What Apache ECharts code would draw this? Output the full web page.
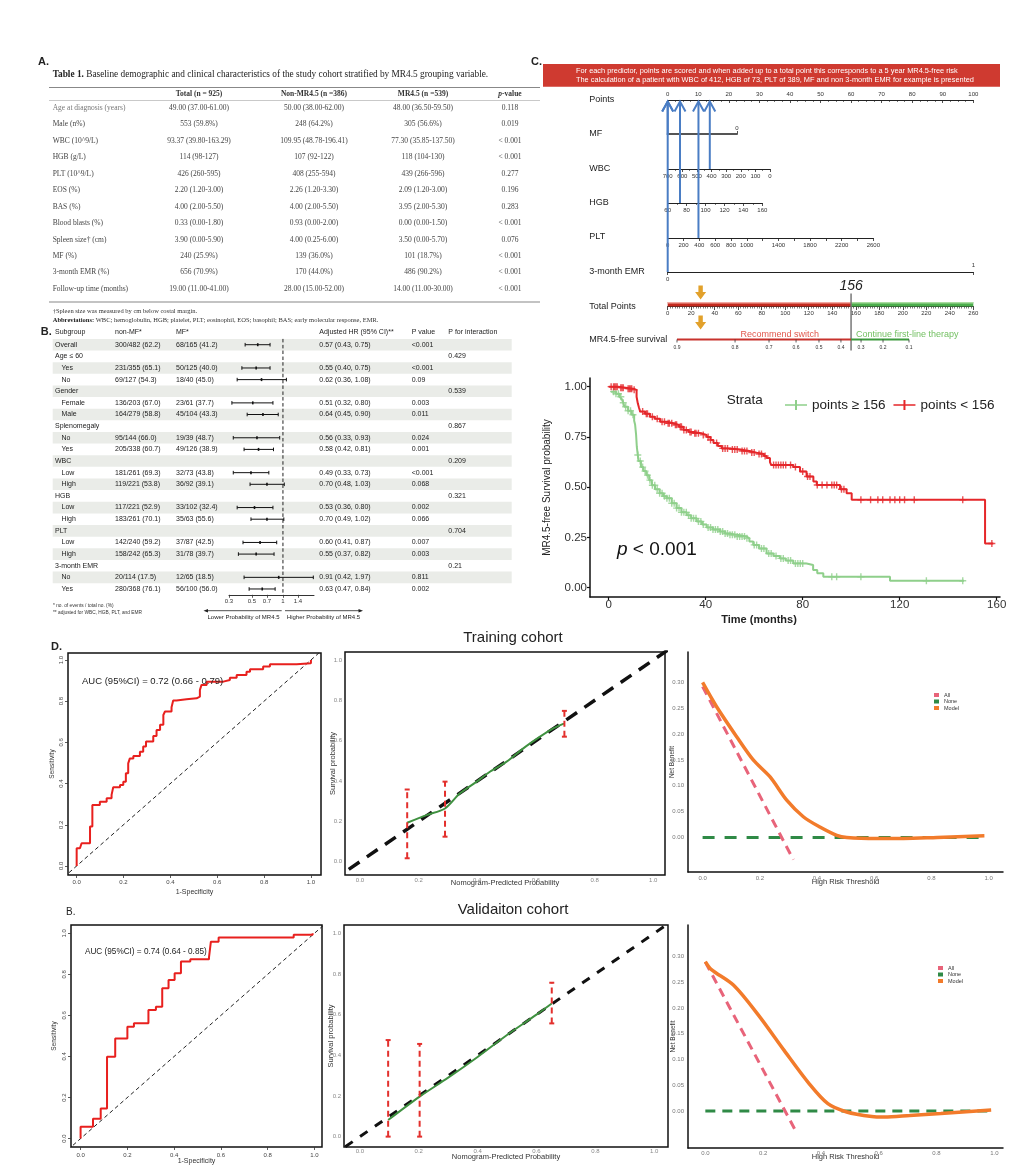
<!DOCTYPE html>
<html>
<head>
<meta charset="utf-8">
<title>MR4.5 figure</title>
<script src="https://cdn.jsdelivr.net/npm/echarts@6.0.0/dist/echarts.min.js"></script>
<style>
html,body{margin:0;padding:0;background:#ffffff;}
#chart{width:1024px;height:1169px;}
</style>
</head>
<body>
<div id="chart"></div>
<script>
// ================= DATA =================
// ---- Panel A: Table 1 ----
const tableHeaders = ['Total (n = 925)', 'Non-MR4.5 (n =386)', 'MR4.5 (n =539)', '{i|p}-value'];
const tableLabels = ['Age at diagnosis (years)', 'Male (n%)', 'WBC (10^9/L)', 'HGB (g/L)', 'PLT (10^9/L)', 'EOS (%)', 'BAS (%)', 'Blood blasts (%)', 'Spleen size† (cm)', 'MF (%)', '3-month EMR (%)', 'Follow-up time (months)'];
const tableTotal = ['49.00 (37.00-61.00)', '553 (59.8%)', '93.37 (39.80-163.29)', '114 (98-127)', '426 (260-595)', '2.20 (1.20-3.00)', '4.00 (2.00-5.50)', '0.33 (0.00-1.80)', '3.90 (0.00-5.90)', '240 (25.9%)', '656 (70.9%)', '19.00 (11.00-41.00)'];
const tableNonMR = ['50.00 (38.00-62.00)', '248 (64.2%)', '109.95 (48.78-196.41)', '107 (92-122)', '408 (255-594)', '2.26 (1.20-3.30)', '4.00 (2.00-5.50)', '0.93 (0.00-2.00)', '4.00 (0.25-6.00)', '139 (36.0%)', '170 (44.0%)', '28.00 (15.00-52.00)'];
const tableMR = ['48.00 (36.50-59.50)', '305 (56.6%)', '77.30 (35.85-137.50)', '118 (104-130)', '439 (266-596)', '2.09 (1.20-3.00)', '3.95 (2.00-5.30)', '0.00 (0.00-1.50)', '3.50 (0.00-5.70)', '101 (18.7%)', '486 (90.2%)', '14.00 (11.00-30.00)'];
const tableP = ['0.118', '0.019', '< 0.001', '< 0.001', '0.277', '0.196', '0.283', '< 0.001', '0.076', '< 0.001', '< 0.001', '< 0.001'];

// ---- Panel B: forest plot ----
const forestHeaders = ['Subgroup', 'non-MF*', 'MF*', 'Adjusted HR (95% CI)**', 'P value', 'P for interaction'];
const forestSubgroup = ['Overall', 'Age ≤ 60', 'Yes', 'No', 'Gender', 'Female', 'Male', 'Splenomegaly', 'No', 'Yes', 'WBC', 'Low', 'High', 'HGB', 'Low', 'High', 'PLT', 'Low', 'High', '3-month EMR', 'No', 'Yes'];
const forestLevel = [0, 0, 1, 1, 0, 1, 1, 0, 1, 1, 0, 1, 1, 0, 1, 1, 0, 1, 1, 0, 1, 1];
const forestNonMF = ['300/482 (62.2)', '', '231/355 (65.1)', '69/127 (54.3)', '', '136/203 (67.0)', '164/279 (58.8)', '', '95/144 (66.0)', '205/338 (60.7)', '', '181/261 (69.3)', '119/221 (53.8)', '', '117/221 (52.9)', '183/261 (70.1)', '', '142/240 (59.2)', '158/242 (65.3)', '', '20/114 (17.5)', '280/368 (76.1)'];
const forestMF = ['68/165 (41.2)', '', '50/125 (40.0)', '18/40 (45.0)', '', '23/61 (37.7)', '45/104 (43.3)', '', '19/39 (48.7)', '49/126 (38.9)', '', '32/73 (43.8)', '36/92 (39.1)', '', '33/102 (32.4)', '35/63 (55.6)', '', '37/87 (42.5)', '31/78 (39.7)', '', '12/65 (18.5)', '56/100 (56.0)'];
const forestHR = [0.57, null, 0.55, 0.62, null, 0.51, 0.64, null, 0.56, 0.58, null, 0.49, 0.70, null, 0.53, 0.70, null, 0.60, 0.55, null, 0.91, 0.63];
const forestLo = [0.43, null, 0.40, 0.36, null, 0.32, 0.45, null, 0.33, 0.42, null, 0.33, 0.48, null, 0.36, 0.49, null, 0.41, 0.37, null, 0.42, 0.47];
const forestHi = [0.75, null, 0.75, 1.08, null, 0.80, 0.90, null, 0.93, 0.81, null, 0.73, 1.03, null, 0.80, 1.02, null, 0.87, 0.82, null, 1.97, 0.84];
const forestP = ['<0.001', '', '<0.001', '0.09', '', '0.003', '0.011', '', '0.024', '0.001', '', '<0.001', '0.068', '', '0.002', '0.066', '', '0.007', '0.003', '', '0.811', '0.002'];
const forestPint = ['', '0.429', '', '', '0.539', '', '', '0.867', '', '', '0.209', '', '', '0.321', '', '', '0.704', '', '', '0.21', '', ''];
const forestTickValues = [0.3, 0.5, 0.7, 1, 1.4];
const forestTickLabels = ['0.3', '0.5', '0.7', '1', '1.4'];
const forestRange = [0.3, 2.0];

// ---- Panel C: nomogram ----
const nomoNames = ['Points', 'MF', 'WBC', 'HGB', 'PLT', '3-month EMR', 'Total Points', 'MR4.5-free survival'];
const pltTickValues = [0, 200, 400, 600, 800, 1000, 1200, 1400, 1600, 1800, 2000, 2200, 2400, 2600];
const pltLabelValues = [0, 200, 400, 600, 800, 1000, 1400, 1800, 2200, 2600];
const survTickLabels = ['0.9', '0.8', '0.7', '0.6', '0.5', '0.4', '0.3', '0.2', '0.1'];
const survTickPoints = [7.9, 57.3, 86.2, 109.2, 128.7, 147.4, 164.5, 183.2, 205.3];
const cutoffPoints = 156;
const patientMF = 1, patientWBC = 412, patientHGB = 73, patientPLT = 389, patientEMR = 0;
const patientTotalPoints = 28;

// ---- Panel C: Kaplan-Meier ----
const kmRedSteps = [[0,1.0],[4,0.995],[7,0.99],[10,0.984],[11.5,0.95],[12,0.917],[12.5,0.895],[13,0.876],[15,0.865],[17,0.85],[19,0.84],[21.2,0.826],[24,0.818],[26.7,0.81],[29,0.8],[30.8,0.785],[33,0.775],[34.9,0.768],[38,0.76],[40.4,0.75],[42,0.735],[43.2,0.72],[45,0.705],[46.6,0.693],[50,0.688],[54.1,0.68],[58,0.672],[61,0.665],[64,0.655],[65.1,0.645],[66.5,0.625],[67,0.611],[76.1,0.6],[78.9,0.578],[81.6,0.553],[84.4,0.528],[85.8,0.511],[95.4,0.49],[98.1,0.47],[100.2,0.437],[155.2,0.22],[158.6,0.22]];
const kmGreenSteps = [[1,0.975],[3,0.965],[4.5,0.95],[5.3,0.94],[6,0.92],[6.5,0.9],[8,0.88],[9.5,0.86],[10.5,0.83],[10.9,0.81],[11.3,0.76],[11.6,0.7],[12,0.66],[12.3,0.63],[13.3,0.6],[14.3,0.58],[15.5,0.56],[16.7,0.535],[17.8,0.51],[19.1,0.49],[21,0.47],[22.5,0.455],[23.9,0.445],[26,0.42],[28,0.396],[30,0.375],[32.2,0.36],[34,0.345],[36.3,0.33],[38.5,0.315],[40.4,0.3],[43,0.29],[45.9,0.28],[48,0.27],[50,0.263],[53,0.255],[56.8,0.246],[58,0.23],[59.6,0.213],[62,0.195],[65.1,0.17],[68,0.158],[70.6,0.146],[73,0.135],[76.1,0.121],[81.6,0.113],[84.3,0.088],[86,0.072],[88.5,0.055],[116,0.035],[146.5,0.035]];
const kmRedCensor = [1,2,2.5,3,3.5,5,5.5,6,8,8.5,9,9.5,10.5,14,15.5,16,18,20,22,23,24.5,25,26,27.5,28,29.5,30,31,32,33.5,34,35.5,36,37,39,41,42,44.5,47,48,49,51,52,53,55,56,57,59,60,62,63,64.5,68,69,70,71,72,73,75,77,80,82,83,86,88,90,92,93,94,96,97,104,108,111,113,116,118,120,122,126,146,158];
const kmGreenCensor = [2,3,4,5,6,7,8,9,10,12,13,14,15,16,17,18,19,20,21,22,23,24,25,26,27,28,29,30,31,32,33,34,35,36,37,38,39,41,42,43,44,45,46,47,48,49,50,51,52,53,54,55,56,57,60,61,63,64,66,67,69,71,72,74,75,77,78,79,80,92,94,104,131,146];
const kmXTicks = [0, 40, 80, 120, 160];
const kmYTicks = [0, 0.25, 0.5, 0.75, 1];

// ---- Panel D: ROC / calibration / DCA ----
const unitTicks = [0, 0.2, 0.4, 0.6, 0.8, 1.0];
const dcaYTicks = [0, 0.05, 0.10, 0.15, 0.20, 0.25, 0.30];
const rocTrain = [[0,0],[0,0.086],[0.014,0.094],[0.021,0.11],[0.057,0.191],[0.067,0.296],[0.099,0.312],[0.128,0.329],[0.149,0.345],[0.156,0.382],[0.185,0.393],[0.199,0.409],[0.21,0.45],[0.22,0.498],[0.227,0.522],[0.242,0.534],[0.27,0.555],[0.284,0.58],[0.296,0.604],[0.327,0.631],[0.341,0.66],[0.356,0.685],[0.37,0.733],[0.377,0.75],[0.405,0.771],[0.412,0.803],[0.426,0.809],[0.469,0.814],[0.512,0.822],[0.526,0.854],[0.533,0.879],[0.555,0.895],[0.626,0.903],[0.654,0.914],[0.683,0.927],[0.725,0.943],[0.74,0.955],[0.796,0.968],[0.825,0.979],[0.939,0.984],[1.0,1.0]];
const rocValid = [[0,0],[0,0.057],[0.053,0.097],[0.086,0.146],[0.113,0.398],[0.148,0.487],[0.2,0.545],[0.228,0.561],[0.29,0.626],[0.322,0.642],[0.349,0.732],[0.376,0.772],[0.402,0.805],[0.429,0.862],[0.469,0.873],[0.549,0.883],[0.557,0.959],[0.59,0.979],[0.911,0.992],[0.992,1.0]];
const aucTrainText = 'AUC (95%CI) = 0.72 (0.66 - 0.79)';
const aucValidText = 'AUC (95%CI) = 0.74 (0.64 - 0.85)';
const calibTrainLine = [[0.161,0.193],[0.227,0.231],[0.29,0.264],[0.341,0.339],[0.398,0.397],[0.443,0.446],[0.5,0.496],[0.557,0.562],[0.614,0.62],[0.659,0.661],[0.697,0.686]];
const calibTrainBars = [[0.161,0.017,0.358],[0.29,0.124,0.397],[0.697,0.62,0.748]];
const calibValidLine = [[0.096,0.082],[0.203,0.197],[0.3,0.29],[0.4,0.392],[0.5,0.5],[0.6,0.6],[0.652,0.655]];
const calibValidBars = [[0.096,0.0,0.475],[0.203,0.0,0.456],[0.652,0.557,0.757]];
const dcaNone = [[0,0],[0.99,0]];
const dcaTrainAll = [[0,0.292],[0.317,-0.043]];
const dcaTrainModel = [[0,0.30],[0.049,0.253],[0.119,0.195],[0.177,0.15],[0.236,0.117],[0.294,0.072],[0.352,0.04],[0.41,0.02],[0.469,0.004],[0.504,0.0],[0.609,-0.002],[0.702,-0.002],[0.82,0.0],[0.985,0.003]];
const dcaValidAll = [[0,0.289],[0.31,-0.036]];
const dcaValidModel = [[0,0.29],[0.02,0.275],[0.098,0.244],[0.185,0.185],[0.272,0.118],[0.359,0.053],[0.424,0.014],[0.489,-0.002],[0.576,-0.011],[0.62,-0.012],[0.707,-0.009],[0.815,-0.005],[0.989,0.002]];

// ================= STYLE / LAYOUT =================
const SANS = '"Liberation Sans", Arial, Helvetica, sans-serif';
const SERIF = '"Liberation Serif", "Times New Roman", serif';
const KM_RED = '#e5272a', KM_GREEN = '#8fcf8b';
const ROC_RED = '#e8201e', CAL_GREEN = '#3f9140', BAR_RED = '#e3302d';
const DCA_ALL = '#e8647a', DCA_NONE = '#2f8a46', DCA_MODEL = '#f27b2b';
const BLUE = '#4a7dc4', ORANGE = '#e2a12b';
const plusPath = 'path://M-1,-5L1,-5L1,-1L5,-1L5,1L1,1L1,5L-1,5L-1,1L-5,1L-5,-1L-1,-1Z';
const plusLineIcon = 'path://M0,4.2L10,4.2L10,0L12,0L12,4.2L22,4.2L22,5.8L12,5.8L12,10L10,10L10,5.8L0,5.8Z';

const NOMO_LEFT = 667.7;
const nomoY = [100, 134, 169, 203, 238, 272, 306.5, 339.5];
const nomoWidth = [305.6, 69.3, 102.3, 94.6, 205.6, 305.6, 305.6, 305.6];
const nomoTopAxis = [true, true, false, false, false, false, false, false];

const grids = [
  {left:229, top:338.9, width:85, height:255.9},            // 0 forest
];
for (let k = 0; k < 8; k++) {
  grids.push({left:NOMO_LEFT, top: nomoTopAxis[k] ? nomoY[k] : nomoY[k] - 1, width:nomoWidth[k], height:1});   // 1..8 nomogram
}
grids.push({left:590, top:378, width:410, height:219});      // 9 KM
grids.push({left:68, top:653, width:253, height:222});       // 10 ROC train
grids.push({left:345, top:652, width:320, height:223});      // 11 calib train
grids.push({left:688, top:652, width:315, height:220});      // 12 DCA train
grids.push({left:71, top:925, width:251, height:222});       // 13 ROC valid
grids.push({left:344, top:925, width:324, height:222});      // 14 calib valid
grids.push({left:688, top:925, width:315, height:223});      // 15 DCA valid
const boxed = {10:true, 11:true, 13:true, 14:true};

function vAxis(gi, extra) {
  const a = {gridIndex: gi, type: 'value', splitLine: {show: false}, nameMoveOverlap: false};
  for (const k in extra) a[k] = extra[k];
  a.axisLine = Object.assign({onZero: false}, extra.axisLine || {});
  return a;
}
const f1 = v => (Math.round(v * 10) / 10).toFixed(1);
const f2 = v => (Math.round(v * 100) / 100).toFixed(2);
const fInt = v => String(Math.round(v));
const forestTickLn = forestTickValues.map(Math.log);
function forestFmt(v) {
  let best = 0;
  forestTickLn.forEach((t, i) => { if (Math.abs(t - v) < Math.abs(forestTickLn[best] - v)) best = i; });
  return forestTickLabels[best];
}
const nomoLine = {show: true, lineStyle: {color: '#222', width: 1}};
const nomoLab = o => Object.assign({fontSize: 6, color: '#333', margin: 4, fontFamily: SANS, formatter: fInt}, o || {});
const smallLab = (o) => Object.assign({fontSize: 6, color: '#444', fontFamily: SANS}, o || {});
const nameStyle = (s) => ({fontSize: s || 7, color: '#333', fontFamily: SANS});

// ---------- x axes ----------
const xAxes = [];
xAxes.push(vAxis(0, {min: Math.log(forestRange[0]), max: Math.log(forestRange[1]),
  axisLine: {show: true, lineStyle: {color: '#333', width: 1}},
  axisTick: {show: true, customValues: forestTickLn, length: 3, lineStyle: {color: '#333', width: 0.8}},
  axisLabel: {customValues: forestTickLn, formatter: forestFmt, fontSize: 6, color: '#333', margin: 4, fontFamily: SANS}}));
// 1 points
xAxes.push(vAxis(1, {position: 'top', min: 0, max: 100, interval: 10, axisLine: nomoLine,
  axisTick: {show: true, length: 3, inside: true, lineStyle: {color: '#222', width: 0.8}},
  minorTick: {show: true, splitNumber: 4, length: 2, lineStyle: {color: '#222', width: 0.6}},
  axisLabel: nomoLab({margin: 3})}));
// 2 MF
xAxes.push(vAxis(2, {position: 'top', min: 0, max: 1, inverse: true,
  axisLine: {show: true, lineStyle: {color: '#555', width: 2}},
  axisTick: {show: true, customValues: [0], length: 3, lineStyle: {color: '#555', width: 1}},
  axisLabel: nomoLab({customValues: [0], margin: 3})}));
// 3 WBC
xAxes.push(vAxis(3, {min: 0, max: 700, interval: 100, inverse: true, axisLine: nomoLine,
  axisTick: {show: true, length: 3, lineStyle: {color: '#222', width: 0.8}},
  minorTick: {show: true, splitNumber: 2, length: 2, lineStyle: {color: '#222', width: 0.6}},
  axisLabel: nomoLab()}));
// 4 HGB
xAxes.push(vAxis(4, {min: 60, max: 160, interval: 20, axisLine: nomoLine,
  axisTick: {show: true, length: 3, lineStyle: {color: '#222', width: 0.8}},
  minorTick: {show: true, splitNumber: 2, length: 2, lineStyle: {color: '#222', width: 0.6}},
  axisLabel: nomoLab()}));
// 5 PLT
xAxes.push(vAxis(5, {min: 0, max: 2600, axisLine: nomoLine,
  axisTick: {show: true, customValues: pltTickValues, length: 3, lineStyle: {color: '#222', width: 0.8}},
  axisLabel: nomoLab({customValues: pltLabelValues})}));
// 6 EMR
xAxes.push(vAxis(6, {min: 0, max: 1, axisLine: nomoLine,
  axisTick: {show: true, customValues: [0, 1], length: 3, lineStyle: {color: '#222', width: 0.8}},
  axisLabel: nomoLab({customValues: [0]})}));
// 7 Total points
xAxes.push(vAxis(7, {min: 0, max: 260, interval: 20, axisLine: nomoLine,
  axisTick: {show: true, length: 3.5, lineStyle: {color: '#222', width: 0.8}},
  minorTick: {show: true, splitNumber: 10, length: 2, lineStyle: {color: '#222', width: 0.6}},
  axisLabel: nomoLab({margin: 3.5})}));
// 8 survival (scale drawn by custom series)
xAxes.push(vAxis(8, {min: 0, max: 260, show: false}));
// 9 KM
xAxes.push(vAxis(9, {min: -7.71, max: 161.36,
  axisLine: {show: true, lineStyle: {color: '#111', width: 1.5}},
  axisTick: {show: true, customValues: kmXTicks, length: 3, lineStyle: {color: '#111', width: 1.2}},
  axisLabel: {customValues: kmXTicks, fontSize: 11.5, color: '#333', margin: 2, fontFamily: SANS}}));
function rocX(gi, min, max, gap, labMargin) {
  return vAxis(gi, {min: min, max: max, name: '1-Specificity', nameLocation: 'middle', nameGap: gap, nameTextStyle: nameStyle(7),
    axisLine: {show: false}, axisTick: {show: true, customValues: unitTicks, length: 3, lineStyle: {color: '#333', width: 0.8}},
    axisLabel: smallLab({customValues: unitTicks, formatter: f1, margin: labMargin})});
}
function calX(gi, min, max, gap, labMargin) {
  return vAxis(gi, {min: min, max: max, name: 'Nomogram-Predicted Probability', nameLocation: 'middle', nameGap: gap, nameTextStyle: nameStyle(7.5),
    axisLine: {show: false}, axisTick: {show: false},
    axisLabel: smallLab({customValues: unitTicks, formatter: f1, margin: labMargin, color: '#888'})});
}
function dcaX(gi, min, max, gap, labMargin) {
  return vAxis(gi, {min: min, max: max, name: 'High Risk Threshold', nameLocation: 'middle', nameGap: gap, nameTextStyle: nameStyle(7.5),
    axisLine: {show: true, lineStyle: {color: '#111', width: 1.5}}, axisTick: {show: false},
    axisLabel: smallLab({customValues: unitTicks, formatter: f1, margin: labMargin, color: '#777'})});
}
xAxes.push(rocX(10, -0.037, 1.043, 14, 4));
xAxes.push(calX(11, -0.051, 1.04, 4, 2));
xAxes.push(dcaX(12, -0.051, 1.05, 6, 3));
xAxes.push(rocX(13, -0.041, 1.032, 11, 5));
xAxes.push(calX(14, -0.054, 1.047, 6, 1));
xAxes.push(dcaX(15, -0.06, 1.03, 5, 2));
// 16: top label "1" for 3-month EMR
xAxes.push(vAxis(6, {position: 'top', min: 0, max: 1, axisLine: {show: false}, axisTick: {show: false},
  axisLabel: nomoLab({customValues: [1], margin: 3})}));

// ---------- y axes ----------
const yAxes = [];
yAxes.push({gridIndex: 0, type: 'category', inverse: true, show: false, data: forestSubgroup.map((s, i) => String(i))});
for (let k = 1; k <= 8; k++) yAxes.push(vAxis(k, {min: 0, max: 1, show: false}));
yAxes.push(vAxis(9, {min: -0.046, max: 1.043, name: 'MR4.5-free Survival probability', nameLocation: 'middle', nameGap: 38,
  nameTextStyle: {fontSize: 10, color: '#222', fontFamily: SANS},
  axisLine: {show: true, lineStyle: {color: '#111', width: 1.5}},
  axisTick: {show: true, customValues: kmYTicks, length: 3, lineStyle: {color: '#111', width: 1.2}},
  axisLabel: {customValues: kmYTicks, formatter: f2, fontSize: 11.5, color: '#333', margin: 3, fontFamily: SANS}}));
function rocY(gi, min, max, gap) {
  return vAxis(gi, {min: min, max: max, name: 'Sensitivity', nameLocation: 'middle', nameGap: gap, nameTextStyle: nameStyle(6.5),
    axisLine: {show: false}, axisTick: {show: true, customValues: unitTicks, length: 3, lineStyle: {color: '#333', width: 0.8}},
    axisLabel: smallLab({customValues: unitTicks, formatter: f1, rotate: 90, margin: 4})});
}
function calY(gi, min, max, gap) {
  return vAxis(gi, {min: min, max: max, name: 'Survival probability', nameLocation: 'middle', nameGap: gap, nameTextStyle: nameStyle(7.5),
    axisLine: {show: false}, axisTick: {show: false},
    axisLabel: smallLab({customValues: unitTicks, formatter: f1, margin: 3, color: '#888'})});
}
function dcaY(gi, min, max, gap) {
  return vAxis(gi, {min: min, max: max, name: 'Net Benefit', nameLocation: 'middle', nameGap: gap, nameTextStyle: nameStyle(6.5),
    axisLine: {show: true, lineStyle: {color: '#111', width: 1.5}}, axisTick: {show: false},
    axisLabel: smallLab({customValues: dcaYTicks, formatter: f2, margin: 4, color: '#777'})});
}
yAxes.push(rocY(10, -0.044, 1.034, 12));
yAxes.push(calY(11, -0.066, 1.04, 8));
yAxes.push(dcaY(12, -0.067, 0.359, 12));
yAxes.push(rocY(13, -0.041, 1.04, 13));
yAxes.push(calY(14, -0.051, 1.041, 9));
yAxes.push(dcaY(15, -0.072, 0.361, 11));

// ================= SERIES =================
const series = [];
const FX = {sub: 55, subIndent: 61.5, non: 115, mf: 176, hr: 319.3, p: 411.7, pint: 448.3, bandL: 52.7, bandR: 511.7};
function ctext(x, y, text, o) {
  o = o || {};
  return {type: 'text', x: x, y: y, style: {text: text, fill: o.color || '#222', fontSize: o.size || 7, fontFamily: SANS,
    fontStyle: o.style || 'normal', fontWeight: o.weight || 'normal',
    textAlign: o.align || 'left', align: o.align || 'left', textVerticalAlign: 'middle', verticalAlign: 'middle'}};
}
function cline(x1, y1, x2, y2, stroke, w, dash) {
  const s = {stroke: stroke, lineWidth: w};
  if (dash) s.lineDash = dash;
  return {type: 'line', shape: {x1: x1, y1: y1, x2: x2, y2: y2}, style: s};
}
// forest
series.push({
  type: 'custom', xAxisIndex: 0, yAxisIndex: 0, clip: false, silent: true, z: 2,
  encode: {x: 0, y: 1},
  data: forestSubgroup.map((s, i) => [forestHR[i] != null ? Math.log(forestHR[i]) : 0, i]),
  renderItem: function (params, api) {
    const i = api.value(1);
    const c = api.coord([0, i]);
    const yc = c[1], x1 = c[0];
    const h = api.size([0, 1])[1];
    const ch = [];
    if (i % 2 === 0) ch.push({type: 'rect', shape: {x: FX.bandL, y: yc - h / 2, width: FX.bandR - FX.bandL, height: h}, style: {fill: '#eaece8'}});
    ch.push(cline(x1, yc - h / 2, x1, yc + h / 2, '#222', 1, [3.5, 2.5]));
    ch.push(ctext(forestLevel[i] ? FX.subIndent : FX.sub, yc, forestSubgroup[i]));
    ch.push(ctext(FX.non, yc, forestNonMF[i]));
    ch.push(ctext(FX.mf, yc, forestMF[i]));
    if (forestHR[i] != null) {
      ch.push(ctext(FX.hr, yc, forestHR[i].toFixed(2) + ' (' + forestLo[i].toFixed(2) + ', ' + forestHi[i].toFixed(2) + ')'));
      const xl = api.coord([Math.log(forestLo[i]), i])[0];
      const xh = api.coord([Math.log(forestHi[i]), i])[0];
      const xm = api.coord([Math.log(forestHR[i]), i])[0];
      ch.push(cline(xl, yc, xh, yc, '#111', 1));
      ch.push(cline(xl, yc - 1.8, xl, yc + 1.8, '#111', 1));
      ch.push(cline(xh, yc - 1.8, xh, yc + 1.8, '#111', 1));
      ch.push({type: 'rect', shape: {x: xm - 0.8, y: yc - 1.5, width: 1.6, height: 3}, style: {fill: '#111'}});
    }
    ch.push(ctext(FX.p, yc, forestP[i]));
    ch.push(ctext(FX.pint, yc, forestPint[i]));
    return {type: 'group', children: ch};
  }
});
// nomogram blue arrows
function blueArrow(axisIdx, value) {
  return {type: 'custom', xAxisIndex: axisIdx, yAxisIndex: axisIdx, clip: false, silent: true, z: 6,
    data: [[value, 0]],
    renderItem: function (params, api) {
      const c = api.coord([api.value(0), 0]);
      const x = c[0], yb = c[1], yt = nomoY[0] + 1.5;
      return {type: 'group', children: [
        cline(x, yb, x, yt, BLUE, 2),
        {type: 'polyline', shape: {points: [[x - 5.5, yt + 10], [x, yt], [x + 5.5, yt + 10]]}, style: {stroke: BLUE, lineWidth: 2, fill: null}}
      ]};
    }};
}
series.push(blueArrow(2, patientMF));
series.push(blueArrow(3, patientWBC));
series.push(blueArrow(4, patientHGB));
series.push(blueArrow(5, patientPLT));
series.push(blueArrow(6, patientEMR));
// total points bar, cutoff, orange arrows
function orangeArrow(x, top) {
  return {type: 'polygon', shape: {points: [[x - 2.2, top], [x + 2.2, top], [x + 2.2, top + 6.5], [x + 5.5, top + 6.5], [x, top + 14], [x - 5.5, top + 6.5], [x - 2.2, top + 6.5]]}, style: {fill: ORANGE}};
}
series.push({type: 'custom', xAxisIndex: 7, yAxisIndex: 7, clip: false, silent: true, z: 5,
  data: [[patientTotalPoints, 0]],
  renderItem: function (params, api) {
    const y = api.coord([0, 0])[1];
    const xa = api.coord([0, 0])[0], xc = api.coord([cutoffPoints, 0])[0], xb = api.coord([260, 0])[0];
    const xp = api.coord([api.value(0), 0])[0];
    return {type: 'group', children: [
      {type: 'rect', shape: {x: xa, y: y - 4.5, width: xc - xa, height: 4.5}, style: {fill: '#c42a1e'}},
      {type: 'rect', shape: {x: xa, y: y - 4.5, width: xc - xa, height: 1.5}, style: {fill: '#f2a7a0'}},
      {type: 'rect', shape: {x: xc, y: y - 4.5, width: xb - xc, height: 4.5}, style: {fill: '#4cae4c'}},
      {type: 'rect', shape: {x: xc, y: y - 4.5, width: xb - xc, height: 1.5}, style: {fill: '#a9dca0'}},
      cline(xc, y - 13, xc, y + 44, '#777', 1.5),
      ctext(xc, y - 20.5, String(cutoffPoints), {size: 14, style: 'italic', align: 'center', color: '#222'}),
      orangeArrow(xp, y - 21),
      orangeArrow(xp, y + 9)
    ]};
  }});
// survival scale
series.push({type: 'custom', xAxisIndex: 8, yAxisIndex: 8, clip: false, silent: true, z: 5,
  data: [[cutoffPoints, 0]],
  renderItem: function (params, api) {
    const y = api.coord([0, 0])[1];
    const x0 = api.coord([survTickPoints[0], 0])[0];
    const xc = api.coord([api.value(0), 0])[0];
    const x1 = api.coord([survTickPoints[survTickPoints.length - 1], 0])[0];
    const ch = [cline(x0, y, xc, y, '#c8322d', 2), cline(xc, y, x1, y, '#3d9a3d', 2)];
    survTickPoints.forEach((p, i) => {
      const x = api.coord([p, 0])[0];
      ch.push(cline(x, y, x, y + 3, '#333', 0.8));
      ch.push(ctext(x, y + 8, survTickLabels[i], {size: 5, align: 'center', color: '#333'}));
    });
    ch.push(ctext(xc - 32, y - 4.5, 'Recommend switch', {size: 9, align: 'right', color: '#e0574c'}));
    ch.push(ctext(xc + 5, y - 4.5, 'Continue first-line therapy', {size: 9, align: 'left', color: '#74c063'}));
    return {type: 'group', children: ch};
  }});
// Kaplan-Meier
function stepValue(steps, t) {
  let s = steps[0][1];
  for (const p of steps) { if (p[0] <= t) s = p[1]; else break; }
  return s;
}
series.push({type: 'line', name: 'points ≥ 156', xAxisIndex: 9, yAxisIndex: 9, data: kmGreenSteps, step: 'end', showSymbol: false,
  itemStyle: {color: KM_GREEN}, lineStyle: {color: KM_GREEN, width: 2}, silent: true, z: 3});
series.push({type: 'scatter', name: 'points ≥ 156', xAxisIndex: 9, yAxisIndex: 9, symbol: plusPath, symbolSize: 7,
  data: kmGreenCensor.map(t => [t, stepValue(kmGreenSteps, t)]), itemStyle: {color: KM_GREEN}, silent: true, z: 3});
series.push({type: 'line', name: 'points < 156', xAxisIndex: 9, yAxisIndex: 9, data: kmRedSteps, step: 'end', showSymbol: false,
  itemStyle: {color: KM_RED}, lineStyle: {color: KM_RED, width: 2}, silent: true, z: 4});
series.push({type: 'scatter', name: 'points < 156', xAxisIndex: 9, yAxisIndex: 9, symbol: plusPath, symbolSize: 7,
  data: kmRedCensor.map(t => [t, stepValue(kmRedSteps, t)]), itemStyle: {color: KM_RED}, silent: true, z: 4});
// ROC
function rocSeries(ai, data) {
  series.push({type: 'line', xAxisIndex: ai, yAxisIndex: ai, data: [[-0.1, -0.1], [1.1, 1.1]], showSymbol: false, silent: true,
    lineStyle: {color: '#222', width: 1, type: [4, 3]}, z: 2});
  series.push({type: 'line', xAxisIndex: ai, yAxisIndex: ai, data: data, step: 'end', showSymbol: false, silent: true,
    lineStyle: {color: ROC_RED, width: 2}, z: 3});
}
rocSeries(10, rocTrain);
rocSeries(13, rocValid);
// calibration
function calSeries(ai, line, bars, dash, dw) {
  series.push({type: 'line', xAxisIndex: ai, yAxisIndex: ai, data: [[-0.1, -0.1], [1.1, 1.1]], showSymbol: false, silent: true,
    lineStyle: {color: '#111', width: dw, type: dash}, z: 2});
  series.push({type: 'line', xAxisIndex: ai, yAxisIndex: ai, data: line, smooth: 0.3, showSymbol: false, silent: true,
    lineStyle: {color: CAL_GREEN, width: 2}, z: 3});
  series.push({type: 'custom', xAxisIndex: ai, yAxisIndex: ai, clip: false, silent: true, z: 4,
    encode: {x: 0, y: [1, 2]}, data: bars,
    renderItem: function (params, api) {
      const a = api.coord([api.value(0), api.value(1)]);
      const b = api.coord([api.value(0), api.value(2)]);
      return {type: 'group', children: [
        cline(a[0], a[1], b[0], b[1], BAR_RED, 2, [6, 4]),
        cline(a[0] - 2.5, a[1], a[0] + 2.5, a[1], BAR_RED, 2),
        cline(b[0] - 2.5, b[1], b[0] + 2.5, b[1], BAR_RED, 2)
      ]};
    }});
}
calSeries(11, calibTrainLine, calibTrainBars, [13, 9], 3.5);
calSeries(14, calibValidLine, calibValidBars, [9, 9], 3);
// decision curves
function dcaSeries(ai, all, model, noneDash) {
  series.push({type: 'line', name: 'None', xAxisIndex: ai, yAxisIndex: ai, data: dcaNone, showSymbol: false, silent: true,
    itemStyle: {color: DCA_NONE}, lineStyle: {color: DCA_NONE, width: 3, type: noneDash}, z: 2});
  series.push({type: 'line', name: 'All', xAxisIndex: ai, yAxisIndex: ai, data: all, showSymbol: false, silent: true,
    itemStyle: {color: DCA_ALL}, lineStyle: {color: DCA_ALL, width: 3, type: [9, 6]}, z: 3});
  series.push({type: 'line', name: 'Model', xAxisIndex: ai, yAxisIndex: ai, data: model, smooth: 0.3, showSymbol: false, silent: true,
    itemStyle: {color: DCA_MODEL}, lineStyle: {color: DCA_MODEL, width: 3.5}, z: 4});
}
dcaSeries(12, dcaTrainAll, dcaTrainModel, [12, 10]);
dcaSeries(15, dcaValidAll, dcaValidModel, [10, 7]);

// ================= GRAPHIC TEXT =================
const G = [];
function T(x, y, text, o) {
  o = o || {};
  const st = {text: text, fill: o.color || '#222', fontSize: o.size || 8, fontFamily: o.family || SANS,
    fontWeight: o.weight || 'normal', fontStyle: o.style || 'normal',
    textAlign: o.align || 'left', align: o.align || 'left', textVerticalAlign: 'middle', verticalAlign: 'middle'};
  if (o.rich) st.rich = o.rich;
  G.push({type: 'text', x: x, y: y, rotation: o.rot || 0, silent: true, z: 20, style: st});
}
function Ln(x1, y1, x2, y2, color, w) {
  G.push({type: 'line', silent: true, z: 19, shape: {x1: x1, y1: y1, x2: x2, y2: y2}, style: {stroke: color, lineWidth: w}});
}
// Panel A
T(38, 62, 'A.', {size: 11, weight: 'bold'});
T(52.7, 75, '{b|Table 1.} Baseline demographic and clinical characteristics of the study cohort stratified by MR4.5 grouping variable.',
  {size: 9.3, family: SERIF, color: '#222', rich: {b: {fontWeight: 'bold', fontFamily: SERIF, fontSize: 9.3, fill: '#222'}}});
Ln(49, 87.5, 540, 87.5, '#888', 1.2);
Ln(49, 100.5, 540, 100.5, '#bbb', 0.8);
Ln(49, 302, 540, 302, '#888', 1.2);
const TA = {label: 52.7, cols: [199, 314, 423, 510], y0: 108, dy: 16.45};
tableHeaders.forEach((h, j) => T(TA.cols[j], 94.3, h, {size: 7.5, family: SERIF, weight: 'bold', align: 'center', color: '#333',
  rich: {i: {fontStyle: 'italic', fontWeight: 'bold', fontFamily: SERIF, fontSize: 7.5, fill: '#333'}}}));
tableLabels.forEach((l, i) => {
  const y = TA.y0 + i * TA.dy;
  T(TA.label, y, l, {size: 7.5, family: SERIF, color: i === 0 ? '#777' : '#444'});
  T(TA.cols[0], y, tableTotal[i], {size: 7.5, family: SERIF, color: '#444', align: 'center'});
  T(TA.cols[1], y, tableNonMR[i], {size: 7.5, family: SERIF, color: '#444', align: 'center'});
  T(TA.cols[2], y, tableMR[i], {size: 7.5, family: SERIF, color: '#444', align: 'center'});
  T(TA.cols[3], y, tableP[i], {size: 7.5, family: SERIF, color: '#444', align: 'center'});
});
T(52.7, 311, '†Spleen size was measured by cm below costal margin.', {size: 6.5, family: SERIF, color: '#333'});
T(52.7, 320, '{b|Abbreviations:} WBC; hemoglobulin, HGB; platelet, PLT; eosinophil, EOS; basophil; BAS; early molecular response, EMR.',
  {size: 6.5, family: SERIF, color: '#333', rich: {b: {fontWeight: 'bold', fontFamily: SERIF, fontSize: 6.5, fill: '#222'}}});
// Panel B headers & notes
T(40.7, 332, 'B.', {size: 11, weight: 'bold'});
const FH = [55, 115, 176, 319.3, 411.7, 448.3];
forestHeaders.forEach((h, j) => T(FH[j], 332, h, {size: 7, color: '#222'}));
T(53, 606, '* no. of events / total no. (%)', {size: 4.8, color: '#333'});
T(53, 613, '** adjusted for WBC, HGB, PLT, and EMR', {size: 4.8, color: '#333'});
Ln(206, 610.7, 281.7, 610.7, '#222', 0.8);
G.push({type: 'polygon', silent: true, z: 19, shape: {points: [[203.5, 610.7], [208, 608.9], [208, 612.5]]}, style: {fill: '#222'}});
Ln(285, 610.7, 360.5, 610.7, '#222', 0.8);
G.push({type: 'polygon', silent: true, z: 19, shape: {points: [[363, 610.7], [358.5, 608.9], [358.5, 612.5]]}, style: {fill: '#222'}});
T(243.5, 617, 'Lower Probability of MR4.5', {size: 6, align: 'center', color: '#222'});
T(323.5, 617, 'Higher Probability of MR4.5', {size: 6, align: 'center', color: '#222'});
// Panel C nomogram
T(531, 62, 'C.', {size: 11, weight: 'bold'});
G.push({type: 'rect', silent: true, z: 1, shape: {x: 543, y: 64, width: 457, height: 22.7}, style: {fill: '#cf3a30'}});
T(576, 70.7, 'For each predictor, points are scored and when added up to a total point this corresponds to a 5 year MR4.5-free risk', {size: 7.4, color: '#ffffff'});
T(576, 80, 'The calculation of a patient with WBC of 412, HGB of 73, PLT of 389, MF and non 3-month EMR for example is presented', {size: 7.4, color: '#ffffff'});
const nomoLabelY = [100, 134, 169, 203, 236.7, 271.7, 306.7, 340];
nomoNames.forEach((n, k) => T(589.3, nomoLabelY[k], n, {size: 9, color: '#222'}));
// KM texts
T(726.7, 400.7, 'Strata', {size: 13.5, color: '#222'});
T(617, 550, '{i|p} < 0.001', {size: 19, color: '#111', rich: {i: {fontStyle: 'italic', fontSize: 19, fontFamily: SANS, fill: '#111'}}});
T(759, 620, 'Time (months)', {size: 11, weight: 'bold', align: 'center', color: '#222'});
// Panel D
T(51, 647, 'D.', {size: 11, weight: 'bold'});
T(513, 638, 'Training cohort', {size: 15, align: 'center', color: '#222'});
T(82, 681, aucTrainText, {size: 9.5, color: '#222'});
T(66, 912, 'B.', {size: 10, color: '#222'});
T(513, 910, 'Validaiton cohort', {size: 15, align: 'center', color: '#222'});
T(85, 952, aucValidText, {size: 8.2, color: '#222'});

// ================= OPTION =================
const option = {
  animation: false,
  backgroundColor: '#ffffff',
  textStyle: {fontFamily: SANS},
  grid: grids.map((g, i) => Object.assign({show: !!boxed[i], borderColor: '#111', borderWidth: 1.5, backgroundColor: 'transparent',
    containLabel: false, outerBoundsMode: 'none'}, g)),
  xAxis: xAxes,
  yAxis: yAxes,
  legend: [
    {data: [{name: 'points ≥ 156', icon: plusLineIcon}, {name: 'points < 156', icon: plusLineIcon}], left: 780, top: 393,
      itemWidth: 22, itemHeight: 10, itemGap: 8, selectedMode: false, textStyle: {fontSize: 13.5, color: '#222', fontFamily: SANS}},
    {data: ['All', 'None', 'Model'], orient: 'vertical', left: 929, top: 687, icon: 'rect', itemWidth: 5, itemHeight: 4, itemGap: 0.5,
      selectedMode: false, textStyle: {fontSize: 5.5, lineHeight: 5.5, color: '#333', fontFamily: SANS}},
    {data: ['All', 'None', 'Model'], orient: 'vertical', left: 933, top: 960, icon: 'rect', itemWidth: 5, itemHeight: 4, itemGap: 0.5,
      selectedMode: false, textStyle: {fontSize: 5.5, lineHeight: 5.5, color: '#333', fontFamily: SANS}}
  ],
  graphic: {elements: G},
  series: series
};
const chart = echarts.init(document.getElementById('chart'), null, {renderer: 'canvas', width: 1024, height: 1169});
chart.setOption(option);
</script>
</body>
</html>
